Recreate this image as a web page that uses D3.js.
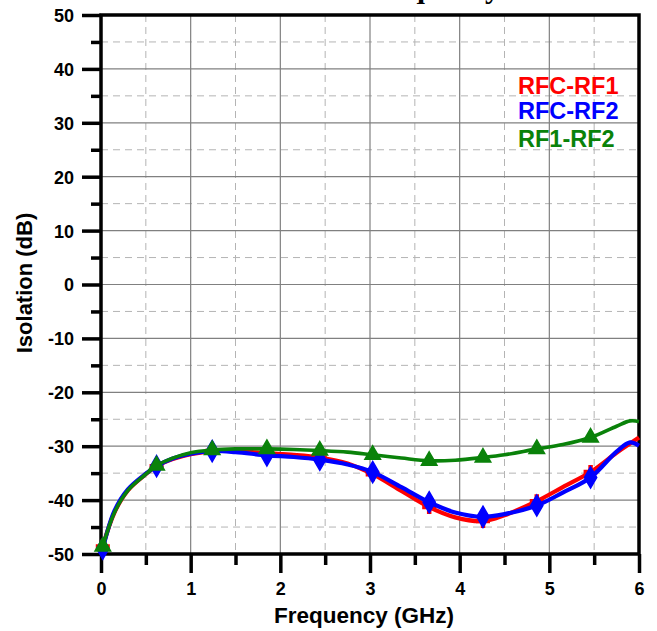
<!DOCTYPE html>
<html>
<head>
<meta charset="utf-8">
<script src="https://cdn.jsdelivr.net/npm/d3@7.9.0/dist/d3.min.js"></script>
<style>
  html, body { margin: 0; padding: 0; background: #fff; }
  svg { display: block; }
  text { font-family: "Liberation Sans", Arial, sans-serif; font-weight: bold; }
</style>
</head>
<body>
<svg id="chart" width="657" height="631"></svg>
<script>
// sample frequencies (GHz)
const freq = [0.02, 0.15, 0.3, 0.5, 0.62, 0.8, 1.0, 1.24, 1.5, 1.85, 2.15, 2.44, 2.75,
  3.03, 3.35, 3.66, 3.95, 4.26, 4.5, 4.86, 5.15, 5.46, 5.75, 5.9, 6.0];

const rfcRf1 = [-48.6, -42.3, -38.2, -35.2, -33.7, -32.4, -31.5, -30.9, -30.9, -31.3, -31.6, -32.1, -33.2,
  -35.2, -38.3, -41.3, -43.2, -43.9, -42.8, -40.2, -37.6, -34.8, -31.2, -29.5, -28.4];
const rfcRf2 = [-49.0, -42.0, -38.0, -35.1, -33.7, -32.3, -31.4, -30.9, -31.1, -31.7, -32.0, -32.5, -33.4,
  -34.8, -37.6, -40.4, -42.3, -43.1, -42.6, -41.0, -38.6, -35.8, -31.0, -29.3, -29.9];
const rf1Rf2 = [-48.6, -42.3, -38.2, -35.2, -33.6, -32.2, -31.2, -30.7, -30.5, -30.5, -30.6, -30.8, -31.1,
  -31.6, -32.2, -32.7, -32.6, -32.1, -31.6, -30.5, -29.7, -28.4, -26.3, -25.3, -25.4];

// frequencies that carry a marker
const markerFreqs = [0.02, 0.62, 1.24, 1.85, 2.44, 3.03, 3.66, 4.26, 4.86, 5.46];

const seriesNames = ['RFC-RF1', 'RFC-RF2', 'RF1-RF2'];
const xTicks = [0, 1, 2, 3, 4, 5, 6];
const yTicks = [-50, -40, -30, -20, -10, 0, 10, 20, 30, 40, 50];

const series = [
  { name: seriesNames[0], values: rfcRf1, color: '#ff0000', marker: 'plus' },
  { name: seriesNames[1], values: rfcRf2, color: '#0000ff', marker: 'diamond' },
  { name: seriesNames[2], values: rf1Rf2, color: '#0a820a', marker: 'triangle' }
];

const svg = d3.select('#chart');
const plotL = 101, plotR = 639, plotT = 15, plotB = 554;

const x = d3.scaleLinear().domain([0, 6]).range([plotL, plotR]);
const y = d3.scaleLinear().domain([-50, 50]).range([plotB, plotT]);

// title, mostly off the top of the picture
svg.append('text')
  .attr('x', 500).attr('y', -2)
  .attr('text-anchor', 'end')
  .style('font-family', '"Liberation Serif", "Times New Roman", serif')
  .style('font-size', '30px')
  .text('Isolation vs. Frequency');

// grid
const grid = svg.append('g');
const xMinor = d3.range(0.5, 6, 1);
const yMinor = d3.range(-45, 50, 10);

grid.selectAll('.xm').data(xMinor).join('line')
  .attr('x1', d => x(d)).attr('x2', d => x(d))
  .attr('y1', plotT).attr('y2', plotB)
  .attr('stroke', '#b4b4b4').attr('stroke-width', 1).attr('stroke-dasharray', '7,5');
grid.selectAll('.ym').data(yMinor).join('line')
  .attr('y1', d => y(d)).attr('y2', d => y(d))
  .attr('x1', plotL).attr('x2', plotR)
  .attr('stroke', '#b4b4b4').attr('stroke-width', 1).attr('stroke-dasharray', '7,5');
grid.selectAll('.xM').data(xTicks.slice(1, -1)).join('line')
  .attr('x1', d => x(d)).attr('x2', d => x(d))
  .attr('y1', plotT).attr('y2', plotB)
  .attr('stroke', '#808080').attr('stroke-width', 1.2);
grid.selectAll('.yM').data(yTicks.slice(1, -1)).join('line')
  .attr('y1', d => y(d)).attr('y2', d => y(d))
  .attr('x1', plotL).attr('x2', plotR)
  .attr('stroke', '#808080').attr('stroke-width', 1.2);

// axes
const xAxis = d3.axisBottom(x).tickValues(xTicks).tickSize(19).tickPadding(6).tickFormat(d => String(d));
const yAxis = d3.axisLeft(y).tickValues(yTicks).tickSize(19).tickPadding(8).tickFormat(d => String(d));

const gx = svg.append('g').attr('transform', `translate(0,${plotB})`).call(xAxis);
const gy = svg.append('g').attr('transform', `translate(${plotL},0)`).call(yAxis);

[gx, gy].forEach(g => {
  g.select('.domain').remove();
  g.selectAll('.tick line').attr('stroke', '#000').attr('stroke-width', 3.5);
  g.selectAll('.tick text').attr('fill', '#000').style('font-size', '18px').style('font-weight', 'bold')
    .style('font-family', '"Liberation Sans", Arial, sans-serif');
});
gx.selectAll('.tick text').attr('dy', '0.9em');
gy.selectAll('.tick text').attr('dy', '0.36em');

// minor ticks
const xMinorAxis = d3.axisBottom(x).tickValues(xMinor).tickSize(11).tickFormat('');
const yMinorAxis = d3.axisLeft(y).tickValues(yMinor).tickSize(10).tickFormat('');
const gxm = svg.append('g').attr('transform', `translate(0,${plotB})`).call(xMinorAxis);
const gym = svg.append('g').attr('transform', `translate(${plotL},0)`).call(yMinorAxis);
[gxm, gym].forEach(g => {
  g.select('.domain').remove();
  g.selectAll('.tick line').attr('stroke', '#000').attr('stroke-width', 3.5);
});

// frame
svg.append('rect')
  .attr('x', plotL).attr('y', plotT)
  .attr('width', plotR - plotL).attr('height', plotB - plotT)
  .attr('fill', 'none').attr('stroke', '#000').attr('stroke-width', 3.5);

// curves
const line = d3.line()
  .x((d, i) => x(freq[i]))
  .y(d => y(d))
  .curve(d3.curveCatmullRom.alpha(0.5));

const symbolPaths = {
  diamond: d3.symbol().type(d3.symbolDiamond).size(130),
  triangle: d3.symbol().type(d3.symbolTriangle).size(105)
};

series.forEach(s => {
  svg.append('path')
    .attr('d', line(s.values))
    .attr('fill', 'none')
    .attr('stroke', s.color)
    .attr('stroke-width', s.marker === 'triangle' ? 3.6 : 4.2)
    .attr('stroke-linejoin', 'round');

  const pts = freq.map((f, i) => ({ f, v: s.values[i] })).filter(p => markerFreqs.includes(p.f));
  if (s.marker === 'plus') {
    svg.selectAll(null).data(pts).join('path')
      .attr('transform', p => `translate(${x(p.f)},${y(p.v)})`)
      .attr('d', 'M-7,0H7M0,-7V7')
      .attr('stroke', s.color).attr('stroke-width', 4.5).attr('fill', 'none');
  } else {
    svg.selectAll(null).data(pts).join('path')
      .attr('transform', p => `translate(${x(p.f)},${y(p.v)})`)
      .attr('d', symbolPaths[s.marker]())
      .attr('fill', s.color)
      .attr('stroke', s.color).attr('stroke-width', 1.5);
  }
});

// legend
const legendY = [94, 119, 147];
svg.selectAll('.legend').data(series).join('text')
  .attr('x', 518).attr('y', (d, i) => legendY[i])
  .attr('fill', d => d.color)
  .style('font-size', '23.5px')
  .text(d => d.name);

// axis titles
svg.append('text')
  .attr('x', 364).attr('y', 623)
  .attr('text-anchor', 'middle')
  .style('font-size', '22.5px')
  .text('Frequency (GHz)');

svg.append('text')
  .attr('transform', 'translate(32,283) rotate(-90)')
  .attr('text-anchor', 'middle')
  .style('font-size', '22px')
  .text('Isolation (dB)');
</script>
</body>
</html>
